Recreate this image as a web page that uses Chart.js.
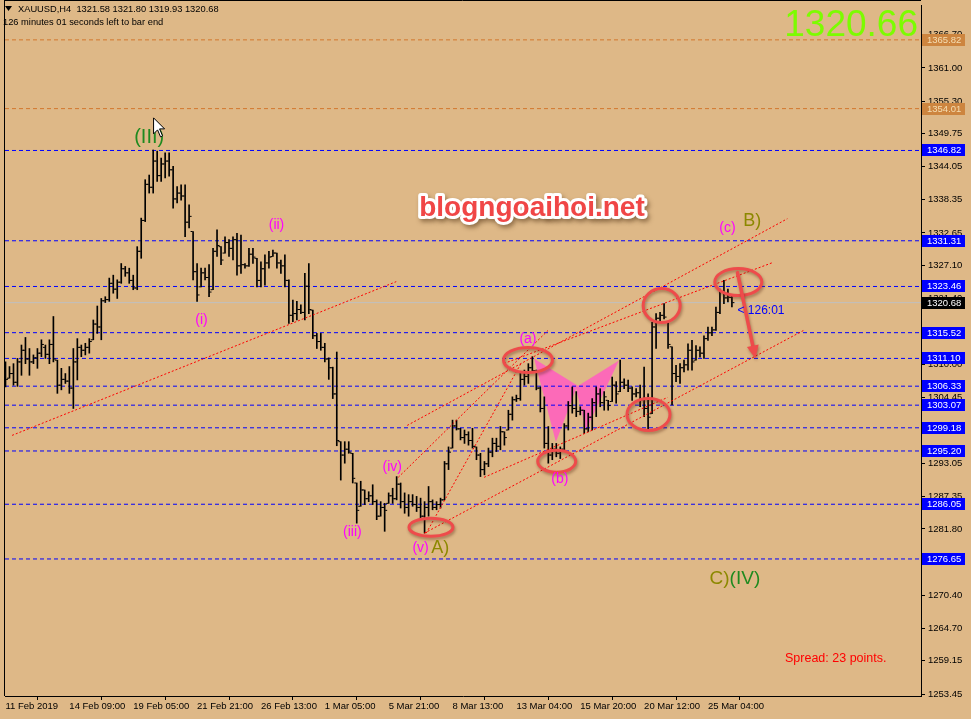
<!DOCTYPE html>
<html><head><meta charset="utf-8">
<script src="https://cdn.jsdelivr.net/npm/chart.js@4.4.1/dist/chart.umd.min.js"></script>
<style>html,body{margin:0;padding:0;background:#DEB887;overflow:hidden}#wrap{width:971px;height:719px}</style>
</head><body><div id="wrap"><canvas id="c" width="971" height="719"></canvas></div>
<script>
// ---- categories / tick labels ----
const xTickIndex = [0,16,32,48,64,80,96,112,128,144,160,176];
const xTickLabels = ["11 Feb 2019","14 Feb 09:00","19 Feb 05:00","21 Feb 21:00","26 Feb 13:00","1 Mar 05:00","5 Mar 21:00","8 Mar 13:00","13 Mar 04:00","15 Mar 20:00","20 Mar 12:00","25 Mar 04:00"];
const yTicks = [1366.70,1361.00,1355.30,1349.75,1344.05,1338.35,1332.65,1327.10,1321.40,1315.70,1310.00,1304.45,1298.75,1293.05,1287.35,1281.80,1276.10,1270.40,1264.70,1259.15,1253.45];

// ---- OHLC series (H4 bars) ----
const barOpen = [1308.0,1307.7,1308.5,1307.0,1310.5,1312.5,1311.0,1310.5,1311.2,1312.0,
1313.0,1311.8,1313.5,1310.8,1306.5,1307.5,1307.2,1306.0,1310.5,1313.0,
1312.5,1313.0,1314.3,1317.0,1316.5,1321.0,1321.2,1324.0,1323.0,1324.2,
1326.5,1325.8,1324.5,1323.2,1329.5,1334.8,1341.0,1340.5,1345.0,1342.5,
1344.5,1345.0,1343.5,1338.5,1339.5,1339.0,1334.5,1332.9,1326.0,1323.4,
1325.8,1325.0,1322.9,1329.5,1330.3,1329.2,1331.0,1330.0,1331.5,1327.0,
1327.2,1327.0,1329.0,1328.3,1324.5,1326.5,1327.5,1328.6,1329.2,1327.5,
1327.0,1324.5,1318.5,1318.8,1319.5,1319.0,1323.5,1319.4,1315.0,1314.0,
1313.0,1311.0,1309.5,1305.0,1296.8,1294.5,1295.5,1294.8,1289.7,1285.7,
1288.5,1287.0,1287.5,1286.5,1284.0,1285.5,1286.2,1287.5,1287.0,1289.5,
1286.5,1285.5,1286.5,1286.0,1285.5,1284.0,1285.5,1286.5,1285.5,1286.0,
1286.8,1293.0,1295.7,1299.5,1299.0,1297.5,1298.0,1297.0,1295.9,1294.5,
1292.0,1293.0,1295.0,1296.5,1296.0,1298.5,1298.8,1301.5,1304.0,1304.2,
1307.5,1308.0,1309.5,1309.0,1306.0,1302.5,1296.5,1294.5,1295.5,1294.8,
1295.5,1299.5,1303.0,1302.5,1302.0,1302.2,1299.0,1301.0,1303.5,1305.0,
1303.5,1303.9,1303.7,1306.5,1305.4,1307.0,1306.5,1306.0,1305.0,1305.2,
1304.0,1302.5,1301.6,1316.5,1318.0,1318.5,1317.3,1313.1,1308.5,1308.0,
1309.5,1310.0,1312.5,1310.8,1312.5,1312.0,1314.5,1315.5,1316.0,1319.0,
1322.5,1321.5,1321.58];
const barHigh = [1310.5,1309.7,1310.2,1311.1,1313.4,1314.7,1312.8,1311.7,1312.8,1314.3,
1313.4,1314.3,1318.3,1310.8,1309.4,1308.5,1309.7,1312.8,1314.5,1313.4,
1313.7,1314.5,1317.7,1320.1,1321.4,1321.7,1324.9,1325.4,1324.6,1327.4,
1326.9,1326.6,1325.4,1330.3,1335.2,1341.8,1342.6,1346.9,1346.7,1345.5,
1346.4,1346.4,1344.1,1340.6,1340.9,1340.9,1337.5,1332.9,1327.4,1326.6,
1326.6,1327.2,1330.0,1333.2,1330.3,1332.0,1331.5,1332.0,1332.6,1332.3,
1327.4,1330.0,1330.0,1328.3,1327.7,1328.9,1329.5,1329.7,1329.2,1328.0,
1328.9,1324.6,1321.1,1320.9,1320.3,1325.7,1327.4,1319.4,1315.4,1315.4,
1313.7,1311.2,1309.6,1312.2,1296.8,1296.8,1296.8,1294.8,1289.7,1290.0,
1288.5,1288.2,1289.4,1286.8,1286.5,1286.2,1288.0,1288.8,1290.8,1289.7,
1288.0,1287.7,1287.7,1287.4,1287.1,1286.5,1289.1,1286.8,1286.5,1287.1,
1293.4,1295.9,1300.5,1300.5,1299.1,1298.8,1298.5,1299.1,1295.9,1294.8,
1293.4,1295.7,1297.4,1297.4,1299.4,1298.5,1302.2,1304.5,1304.8,1308.5,
1309.1,1310.2,1311.4,1309.1,1306.2,1304.5,1299.4,1296.5,1296.5,1295.9,
1299.9,1303.7,1306.2,1305.4,1302.8,1302.2,1301.7,1304.2,1306.2,1305.9,
1305.4,1303.9,1307.9,1307.1,1310.8,1307.6,1307.4,1306.2,1305.9,1306.5,
1309.6,1305.0,1317.3,1318.8,1319.0,1320.5,1317.3,1313.1,1309.9,1310.2,
1310.8,1313.6,1314.2,1313.3,1313.1,1315.0,1316.5,1316.5,1319.9,1323.0,
1324.5,1323.0,1321.80];
const barLow = [1306.2,1307.7,1306.5,1306.3,1308.2,1310.2,1308.2,1310.2,1309.4,1311.4,
1311.1,1310.2,1310.5,1305.1,1305.7,1306.8,1305.1,1302.5,1307.4,1311.4,
1311.7,1312.0,1314.3,1315.4,1314.3,1320.7,1320.9,1322.3,1321.4,1324.0,
1325.2,1324.0,1322.9,1322.9,1328.3,1334.6,1339.5,1339.5,1341.5,1341.5,
1342.1,1342.4,1336.9,1337.8,1338.3,1332.0,1333.5,1324.6,1320.9,1323.4,
1324.6,1321.7,1322.9,1328.6,1327.2,1329.2,1328.6,1328.0,1325.4,1325.7,
1326.6,1326.9,1327.4,1323.4,1323.4,1323.7,1326.6,1328.6,1326.6,1325.7,
1323.4,1317.1,1317.4,1317.7,1318.8,1317.7,1318.8,1314.5,1312.8,1312.5,
1310.5,1307.5,1304.2,1296.1,1290.2,1293.1,1294.8,1289.7,1282.8,1285.7,
1286.0,1286.5,1286.0,1283.4,1284.0,1281.4,1286.2,1286.2,1286.8,1285.4,
1284.5,1284.0,1285.7,1284.8,1283.4,1281.1,1284.0,1285.1,1285.1,1285.4,
1286.8,1292.0,1295.7,1298.8,1297.1,1296.5,1296.2,1295.7,1293.7,1290.8,
1291.1,1292.5,1294.2,1295.1,1295.4,1296.2,1298.8,1300.5,1303.7,1303.9,
1306.5,1306.8,1308.8,1305.7,1301.9,1295.7,1293.1,1293.7,1294.2,1293.9,
1295.4,1298.8,1301.7,1301.1,1301.4,1298.2,1298.5,1298.8,1301.1,1302.8,
1302.2,1302.2,1303.7,1303.4,1305.4,1305.9,1305.4,1303.9,1304.5,1302.8,
1301.1,1298.9,1301.6,1312.8,1317.6,1317.9,1312.8,1303.1,1307.1,1306.8,
1308.8,1309.1,1309.1,1310.8,1311.3,1311.1,1314.2,1315.0,1315.9,1318.8,
1320.5,1320.8,1319.93];
const barClose = [1307.5,1308.5,1307.0,1310.5,1312.5,1311.0,1310.5,1311.2,1312.0,1313.5,
1311.8,1313.5,1311.0,1306.5,1307.5,1307.2,1306.0,1310.5,1313.0,1312.5,
1313.0,1314.0,1317.0,1316.5,1321.0,1321.2,1324.0,1323.0,1324.2,1326.5,
1325.8,1324.5,1323.2,1329.5,1334.8,1341.0,1340.5,1345.0,1342.5,1344.5,
1345.0,1343.5,1338.5,1339.5,1339.0,1334.5,1335.5,1326.0,1322.0,1325.8,
1325.0,1322.5,1329.5,1330.5,1328.0,1331.0,1330.0,1331.5,1327.0,1327.2,
1327.0,1329.0,1328.5,1324.5,1326.5,1327.5,1328.5,1329.2,1327.5,1327.0,
1324.5,1318.5,1318.8,1319.5,1319.0,1323.5,1319.5,1315.0,1314.0,1313.0,
1311.0,1309.5,1305.0,1297.0,1294.5,1295.5,1295.0,1290.5,1285.0,1288.5,
1287.0,1287.5,1286.5,1284.0,1285.5,1285.0,1287.5,1287.0,1289.5,1286.5,
1285.5,1286.5,1286.0,1285.5,1284.0,1285.5,1286.5,1285.5,1286.0,1286.8,
1293.0,1295.0,1299.5,1299.0,1297.5,1298.0,1297.0,1296.0,1294.5,1292.0,
1293.0,1295.0,1296.5,1296.0,1298.5,1297.5,1301.5,1304.0,1304.2,1307.5,
1308.0,1309.5,1309.0,1306.0,1302.5,1296.5,1294.5,1295.5,1294.8,1295.5,
1299.5,1303.0,1302.5,1302.0,1302.2,1299.0,1301.0,1303.5,1305.0,1303.5,
1304.5,1303.0,1306.5,1305.0,1307.0,1306.5,1306.0,1305.0,1305.2,1304.0,
1302.5,1301.0,1316.5,1318.0,1318.5,1318.2,1313.5,1308.5,1308.0,1309.5,
1310.0,1312.5,1310.5,1312.5,1312.0,1314.5,1315.5,1316.0,1319.0,1322.5,
1321.5,1321.6,1320.68];

// ---- horizontal levels ----
const blueLevels = [1346.82,1331.31,1323.46,1315.52,1311.10,1306.33,1303.07,1299.18,1295.20,1286.05,1276.65];
const orangeLevels = [1365.82,1354.01];
const bidPrice = 1320.68;

// ---- trend lines: [x1, price1, x2, price2] in bar index / price ----
const trendLines = [
  [1.65,1297.88, 97.9,1324.29],
  [100.65,1299.59, 195.9,1335.10],
  [98.4,1290.67, 135.9,1315.89],
  [105.4,1281.07, 129.15,1310.23],
  [104.9,1281.07, 199.9,1315.89],
  [119.9,1290.67, 165.9,1304.40],
  [124.9,1310.23, 192.15,1327.55]
];
// ---- harmonic pattern triangles ----
const pinkTriangles = [
  [[132.45,1311.03],[143.3,1306.45],[137.9,1296.73]],
  [[142.9,1306.16],[145.4,1298.74],[153.7,1310.74]]
];
// ---- ellipses [x, price, rx px, ry px] ----
const ellipses = [[106.6,1282.10,22,9],[130.9,1310.83,24.5,12.5],[138.1,1293.42,19,11],[161.1,1301.48,21.5,16],[164.4,1320.18,18.5,17],[183.6,1324.21,23.5,13.5]];
const arrowPts = [183.4,1325.84, 187.9,1311.09];
// ---- wave labels ----
const waveLabels = [
  ['(III)',36.0,1348.99,'#1F8A1F',20],
  ['(i)',49.1,1317.60,'#FF00FF',14],
  ['(ii)',67.9,1334.07,'#FF00FF',14],
  ['(iii)',86.9,1281.24,'#FF00FF',14],
  ['(iv)',96.9,1292.39,'#FF00FF',14],
  ['(v)',104.0,1278.50,'#FF00FF',14],
  ['A)',108.9,1278.50,'#8C8800',18],
  ['(a)',130.9,1314.34,'#FF00FF',14],
  ['(b)',138.9,1290.33,'#FF00FF',14],
  ['(c)',180.9,1333.56,'#FF00FF',14],
  ['B)',187.1,1334.76,'#8C8800',18]
];

const X_MIN = -0.125, X_MAX = 229.375, Y_MIN = 1253.11, Y_MAX = 1371.81;
const FONT = '"Liberation Sans", Arial, sans-serif';

const datasets = [];
// pink shapes (bottom)
pinkTriangles.forEach(t => datasets.push({type:'line', order:20, data:[...t, t[0]].map(p=>({x:p[0],y:p[1]})),
  fill:'shape', backgroundColor:'rgba(255,98,190,0.9)', borderColor:'rgba(0,0,0,0)', borderWidth:0, pointRadius:0}));
// horizontal lines
blueLevels.forEach(v => datasets.push({type:'line', order:15, data:[{x:X_MIN,y:v},{x:X_MAX,y:v}], borderColor:'#0000FF', borderWidth:1, borderDash:[4,3], pointRadius:0, fill:false}));
orangeLevels.forEach(v => datasets.push({type:'line', order:15, data:[{x:X_MIN,y:v},{x:X_MAX,y:v}], borderColor:'#D2782D', borderWidth:1, borderDash:[4,3], pointRadius:0, fill:false}));
datasets.push({type:'line', order:16, data:[{x:X_MIN,y:bidPrice},{x:X_MAX,y:bidPrice}], borderColor:'#C0C0C0', borderWidth:1, pointRadius:0, fill:false});
// OHLC
datasets.push({type:'bar', order:5, data: barHigh.map((h,i)=>({x:i, y:[barLow[i], h]})), backgroundColor:'#000', borderWidth:0, barThickness:1, grouped:false});
datasets.push({type:'line', order:4, showLine:false, data: barOpen.map((o,i)=>({x:i-0.375,y:o})), pointStyle:'line', pointRadius:1, pointBorderWidth:1, borderColor:'#000', pointBorderColor:'#000'});
datasets.push({type:'line', order:4, showLine:false, data: barClose.map((c,i)=>({x:i+0.375,y:c})), pointStyle:'line', pointRadius:1, pointBorderWidth:1, borderColor:'#000', pointBorderColor:'#000'});
// red dotted trend lines
trendLines.forEach(l => datasets.push({type:'line', order:2, data:[{x:l[0],y:l[1]},{x:l[2],y:l[3]}], borderColor:'#FF0000', borderWidth:1, borderDash:[2,2], pointRadius:0, fill:false}));

const bgPlugin = {id:'bg', beforeDraw(chart){const c=chart.ctx;c.save();c.fillStyle='#DEB887';c.fillRect(0,0,chart.width,chart.height);c.restore();}};

const annPlugin = {id:'ann', afterDatasetsDraw(chart){
  const ctx = chart.ctx, xs = chart.scales.x, ys = chart.scales.y, a = chart.chartArea;
  const px = v => xs.getPixelForValue(v), py = v => ys.getPixelForValue(v);
  ctx.save();
  ctx.beginPath(); ctx.rect(a.left, 0, a.right-a.left, a.bottom); ctx.clip();
  // ellipses
  ellipses.forEach(e => {
    ctx.save();
    ctx.shadowColor='rgba(90,40,20,0.45)'; ctx.shadowBlur=3; ctx.shadowOffsetX=1; ctx.shadowOffsetY=2;
    ctx.beginPath(); ctx.ellipse(px(e[0]), py(e[1]), e[2], e[3], 0, 0, Math.PI*2);
    ctx.strokeStyle='#EE4B4B'; ctx.lineWidth=3; ctx.stroke();
    ctx.restore();
  });
  // arrow
  {
    const x1=px(arrowPts[0]), y1=py(arrowPts[1]), x2=px(arrowPts[2]), y2=py(arrowPts[3]);
    const ang=Math.atan2(y2-y1,x2-x1), hl=13, hw=6;
    ctx.save();
    ctx.shadowColor='rgba(90,40,20,0.45)'; ctx.shadowBlur=3; ctx.shadowOffsetX=1; ctx.shadowOffsetY=2;
    ctx.strokeStyle='#EE4B4B'; ctx.fillStyle='#EE4B4B'; ctx.lineWidth=3.5; ctx.lineCap='round';
    const bx=x2-hl*Math.cos(ang), by=y2-hl*Math.sin(ang);
    ctx.beginPath(); ctx.moveTo(x1,y1); ctx.lineTo(bx,by); ctx.stroke();
    ctx.beginPath(); ctx.moveTo(x2,y2);
    ctx.lineTo(bx+hw*Math.sin(ang), by-hw*Math.cos(ang));
    ctx.lineTo(bx-hw*Math.sin(ang), by+hw*Math.cos(ang));
    ctx.closePath(); ctx.fill();
    ctx.restore();
  }
  // wave labels
  ctx.textAlign='center'; ctx.textBaseline='middle';
  waveLabels.forEach(w => { ctx.font = w[4]+'px '+FONT; ctx.fillStyle=w[3]; ctx.fillText(w[0], px(w[1]), py(w[2])); });
  // C)(IV)
  {
    ctx.font='19px '+FONT; ctx.textAlign='left';
    const x0=px(176.4), y0=py(1273.18);
    ctx.fillStyle='#8C8800'; ctx.fillText('C)', x0, y0);
    const w=ctx.measureText('C)').width;
    ctx.fillStyle='#1F8A1F'; ctx.fillText('(IV)', x0+w, y0);
  }
  // countdown
  ctx.font='12px '+FONT; ctx.fillStyle='#0000FF'; ctx.textAlign='left';
  ctx.fillText('< 126:01', px(183.4), py(1319.32));
  // spread
  ctx.font='12.5px '+FONT; ctx.fillStyle='#FF0000';
  ctx.fillText('Spread: 23 points.', a.right-136, a.bottom-37);
  // watermark
  ctx.save();
  ctx.font='bold 28px '+FONT; ctx.textAlign='center'; ctx.textBaseline='alphabetic';
  ctx.shadowColor='rgba(80,50,20,0.5)'; ctx.shadowBlur=4; ctx.shadowOffsetX=2; ctx.shadowOffsetY=3;
  ctx.lineJoin='round'; ctx.lineWidth=6; ctx.strokeStyle='#FFFFFF';
  ctx.strokeText('blogngoaihoi.net', 532, 216);
  ctx.shadowColor='rgba(0,0,0,0)';
  ctx.fillStyle='#F04646'; ctx.fillText('blogngoaihoi.net', 532, 216);
  ctx.restore();
  // big price
  ctx.font='37px '+FONT; ctx.fillStyle='#7CFC00'; ctx.textAlign='right'; ctx.textBaseline='alphabetic';
  ctx.fillText('1320.66', a.right-3, 36);
  // cursor
  {
    const cx=px(37.1), cy=py(1352.42);
    ctx.beginPath(); ctx.moveTo(cx,cy); ctx.lineTo(cx,cy+16); ctx.lineTo(cx+4,cy+12); ctx.lineTo(cx+7,cy+19);
    ctx.lineTo(cx+9,cy+18); ctx.lineTo(cx+6,cy+11); ctx.lineTo(cx+11,cy+11); ctx.closePath();
    ctx.fillStyle='#FFFFFF'; ctx.fill(); ctx.strokeStyle='#000'; ctx.lineWidth=1; ctx.stroke();
  }
  ctx.restore();
}, afterDraw(chart){
  const ctx = chart.ctx, ys = chart.scales.y, a = chart.chartArea;
  const py = v => ys.getPixelForValue(v);
  ctx.save();
  // frame (left & top)
  ctx.strokeStyle='#000'; ctx.lineWidth=1;
  ctx.beginPath(); ctx.moveTo(a.left-0.5, 0); ctx.lineTo(a.left-0.5, a.bottom); ctx.moveTo(a.left-1, 0.5); ctx.lineTo(a.right, 0.5); ctx.stroke();
  // right-axis price boxes
  const boxes = [];
  blueLevels.forEach(v => boxes.push([v,'#0000FF','#FFFFFF']));
  orangeLevels.forEach(v => boxes.push([v,'#CD853F','#F5DEB3']));
  boxes.push([bidPrice,'#000000','#FFFFFF']);
  ctx.font='9.5px '+FONT; ctx.textAlign='left'; ctx.textBaseline='middle';
  boxes.forEach(b => {
    const y=Math.round(py(b[0]));
    ctx.fillStyle=b[1]; ctx.fillRect(a.right+1, y-6, 43, 12);
    ctx.fillStyle=b[2]; ctx.fillText(b[0].toFixed(2), a.right+6, y+0.5);
  });
  // header
  ctx.fillStyle='#000';
  ctx.beginPath(); ctx.moveTo(5,6); ctx.lineTo(12,6); ctx.lineTo(8.5,11); ctx.closePath(); ctx.fill();
  ctx.font='9.3px '+FONT; ctx.textBaseline='middle';
  ctx.fillText('XAUUSD,H4  1321.58 1321.80 1319.93 1320.68', 18, 9);
  ctx.fillText('126 minutes 01 seconds left to bar end', 3, 22);
  ctx.restore();
}};

new Chart(document.getElementById('c'), {
  type:'line',
  data:{datasets},
  options:{
    responsive:false, animation:false, events:[],
    layout:{padding:{left:3, top:1, right:0, bottom:0}},
    plugins:{legend:{display:false}, tooltip:{enabled:false}},
    scales:{
      x:{type:'linear', min:X_MIN, max:X_MAX, offset:false, position:'bottom',
        afterBuildTicks: s => { s.ticks = xTickIndex.map(v=>({value:v})); },
        afterFit: s => { s.height = 23; s.paddingLeft = 0; s.paddingRight = 0; s.paddingTop = 0; s.paddingBottom = 0; },
        ticks:{autoSkip:false, maxRotation:0, align:'start', padding:1, color:'#000', font:{family:'Liberation Sans', size:9.5},
          callback: v => { const k = xTickIndex.indexOf(v); return k>=0 ? xTickLabels[k] : ''; }},
        grid:{drawOnChartArea:false, drawTicks:true, tickLength:4, color:'#000'},
        border:{display:true, color:'#000'}},
      y:{type:'linear', position:'right', min:Y_MIN, max:Y_MAX,
        afterBuildTicks: s => { s.ticks = yTicks.map(v=>({value:v})); },
        afterFit: s => { s.width = 50; s.paddingTop = 0; s.paddingBottom = 0; s.paddingLeft = 0; s.paddingRight = 0; },
        ticks:{autoSkip:false, padding:3, color:'#000', font:{family:'Liberation Sans', size:9.5}, callback: v => Number(v).toFixed(2)},
        grid:{drawOnChartArea:false, drawTicks:true, tickLength:4, color:'#000'},
        border:{display:true, color:'#000'}}
    }
  },
  plugins:[bgPlugin, annPlugin]
});
</script></body></html>
